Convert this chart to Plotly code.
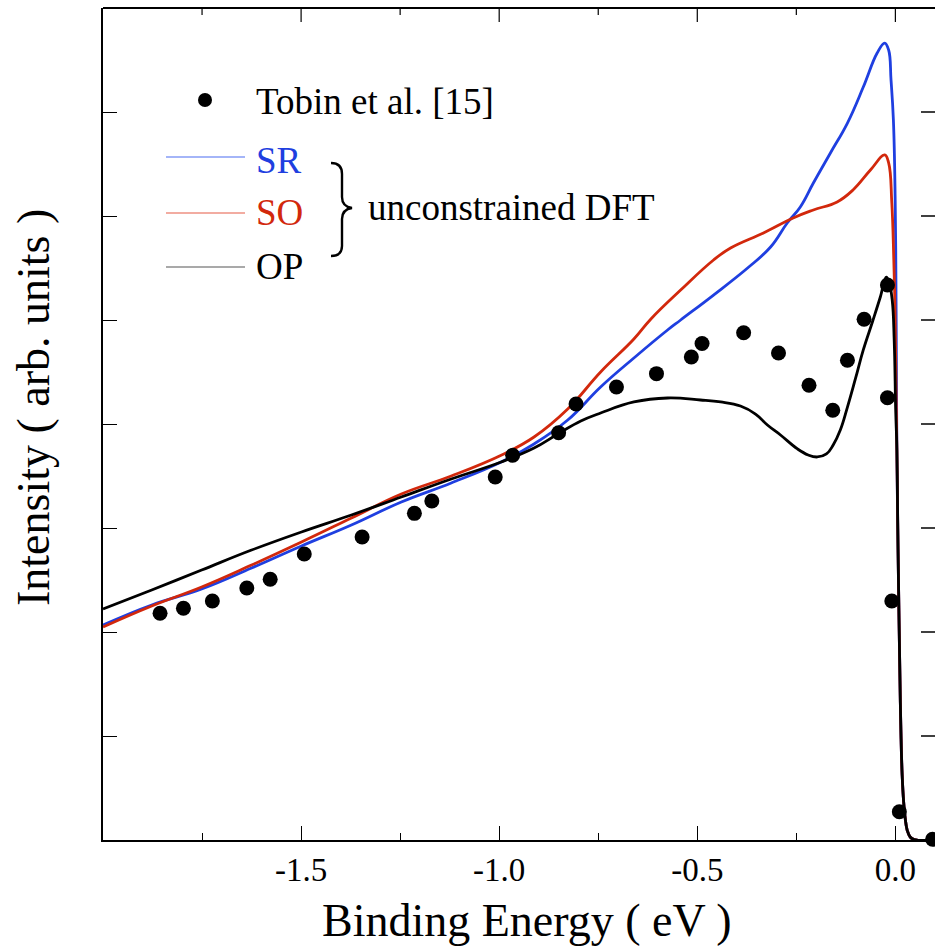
import plotly.graph_objects as go

# ---------------- data (binding energy in eV, intensity in arb. units) ----------------
energy_op = [-2.0, -1.877, -1.751, -1.625, -1.499, -1.373, -1.247, -1.121, -0.995, -0.912,
             -0.852, -0.794, -0.744, -0.660, -0.575, -0.492, -0.441, -0.391, -0.353, -0.323,
             -0.290, -0.247, -0.220, -0.197, -0.174, -0.157, -0.139, -0.121, -0.101, -0.081,
             -0.058, -0.038, -0.023, -0.016, -0.008, -0.003, 0.0008, 0.0038, 0.0058, 0.0078,
             0.0108, 0.0139, 0.0171, 0.0209, 0.0247, 0.0297, 0.0373, 0.0474, 0.1]
intensity_op = [2.221, 2.404, 2.596, 2.788, 2.962, 3.125, 3.298, 3.471, 3.635, 3.769,
                3.904, 4.029, 4.106, 4.212, 4.250, 4.231, 4.212, 4.173, 4.096, 3.990,
                3.894, 3.760, 3.702, 3.683, 3.712, 3.798, 3.942, 4.163, 4.433, 4.712,
                4.981, 5.221, 5.413, 5.365, 5.192, 4.808, 4.135, 3.75, 3.077, 2.5,
                1.731, 1.058, 0.625, 0.365, 0.212, 0.096, 0.029, 0.005, 0.0]

energy_sr = [-2.0, -1.877, -1.751, -1.625, -1.499, -1.373, -1.247, -1.121, -0.995, -0.912,
             -0.827, -0.744, -0.660, -0.575, -0.542, -0.459, -0.373, -0.315, -0.273, -0.240,
             -0.207, -0.164, -0.121, -0.081, -0.046, -0.027, -0.017, -0.011, -0.005, -0.0005,
             0.002, 0.0038, 0.0058, 0.0078, 0.0108, 0.0139, 0.0171, 0.0209, 0.0247, 0.0297,
             0.0373, 0.0474, 0.1]
intensity_sr = [2.067, 2.260, 2.413, 2.615, 2.827, 3.029, 3.250, 3.433, 3.635, 3.808,
                4.038, 4.356, 4.635, 4.904, 5.000, 5.240, 5.500, 5.702, 5.933, 6.087,
                6.317, 6.606, 6.894, 7.240, 7.567, 7.663, 7.596, 7.308, 6.923, 6.154,
                5.0, 3.75, 3.077, 2.5, 1.731, 1.058, 0.625, 0.365, 0.212, 0.096,
                0.029, 0.005, 0.0]

energy_so = [-2.0, -1.877, -1.751, -1.625, -1.499, -1.373, -1.247, -1.121, -0.995, -0.912,
             -0.827, -0.744, -0.660, -0.617, -0.542, -0.459, -0.416, -0.333, -0.258, -0.207,
             -0.147, -0.107, -0.063, -0.027, -0.017, -0.009, -0.004, -0.0005, 0.002, 0.0038,
             0.0058, 0.0078, 0.0108, 0.0139, 0.0171, 0.0209, 0.0247, 0.0297, 0.0373, 0.0474, 0.1]
intensity_so = [2.048, 2.250, 2.433, 2.644, 2.865, 3.096, 3.327, 3.500, 3.700, 3.875,
                4.144, 4.500, 4.817, 5.010, 5.288, 5.577, 5.692, 5.837, 5.981, 6.058,
                6.135, 6.250, 6.442, 6.587, 6.510, 6.125, 5.577, 5.0, 4.231, 3.75,
                3.077, 2.5, 1.731, 1.058, 0.625, 0.365, 0.212, 0.096, 0.029, 0.005, 0.0]

tobin_energy = [-1.856, -1.797, -1.724, -1.637, -1.578, -1.492, -1.346, -1.214, -1.170, -1.010,
                -0.966, -0.850, -0.806, -0.704, -0.603, -0.515, -0.488, -0.383, -0.295, -0.218,
                -0.158, -0.121, -0.079, -0.020, -0.020, -0.009, 0.010, 0.094]
tobin_intensity = [2.180, 2.228, 2.298, 2.423, 2.507, 2.750, 2.913, 3.141, 3.260, 3.490,
                   3.699, 3.916, 4.192, 4.356, 4.484, 4.644, 4.774, 4.878, 4.683, 4.372,
                   4.132, 4.613, 5.007, 5.337, 4.253, 2.298, 0.272, 0.007]

x_tickvals = [-1.5, -1.0, -0.5, 0.0]
x_ticktext = ["-1.5", "-1.0", "-0.5", "0.0"]
x_minorvals = [-1.75, -1.25, -0.75, -0.25]
y_tickvals = [1, 2, 3, 4, 5, 6, 7]

labels = {"tobin": "Tobin et al. [15]", "sr": "SR", "so": "SO", "op": "OP",
          "group": "unconstrained DFT"}

# ---------------- style ----------------
FONT = "Liberation Serif"
BLUE = "#1f3fe0"
RED = "#d2280c"
BLACK = "#000000"
W, H = 935, 948
L, R, T, B = 103, 0, 8, 108
PW, PH = W - L - R, H - T - B
MAJ, MIN = 14, 7


def pxx(xp):
    return (xp - L) / PW


def pxy(yp):
    return (H - B - yp) / PH


fig = go.Figure()
for xs, ys, col in [(energy_sr, intensity_sr, BLUE), (energy_so, intensity_so, RED),
                    (energy_op, intensity_op, BLACK)]:
    fig.add_trace(go.Scatter(x=xs, y=ys, mode="lines", showlegend=False,
                             line=dict(color=col, width=2.8, shape="spline", smoothing=1.2)))
fig.add_trace(go.Scatter(x=tobin_energy, y=tobin_intensity, mode="markers",
                         showlegend=False, marker=dict(color=BLACK, size=15), cliponaxis=False))

shapes = []
annos = []

# ---------------- frame: top line with ticks, right-hand ticks ----------------
shapes.append(dict(type="line", xref="paper", yref="paper", x0=0, x1=1, y0=1, y1=1,
                   line=dict(color=BLACK, width=2)))
for v in x_tickvals:
    shapes.append(dict(type="line", xref="x", yref="paper", x0=v, x1=v, y0=1, y1=1 - MAJ / PH,
                       line=dict(color=BLACK, width=1.2)))
for v in x_minorvals:
    shapes.append(dict(type="line", xref="x", yref="paper", x0=v, x1=v, y0=1, y1=1 - MIN / PH,
                       line=dict(color=BLACK, width=1.2)))
for v in y_tickvals:
    shapes.append(dict(type="line", xref="paper", yref="y", x0=1 - MAJ / PW, x1=1, y0=v, y1=v,
                       line=dict(color=BLACK, width=1.5)))

# ---------------- legend drawn by hand ----------------
shapes.append(dict(type="circle", xref="paper", yref="paper", fillcolor=BLACK, line=dict(width=0),
                   x0=pxx(198), x1=pxx(212), y0=pxy(107), y1=pxy(93)))
for yline, col in [(157, "#4a6cf2"), (213, "#e65a45"), (267, "#555555")]:
    shapes.append(dict(type="line", xref="paper", yref="paper", x0=pxx(166), x1=pxx(245),
                       y0=pxy(yline), y1=pxy(yline), line=dict(color=col, width=1.2)))
bp = [(331, 163), (338, 163), (342, 166), (342, 174), (342, 197), (342, 203), (345, 207), (352, 208),
      (345, 209), (342, 213), (342, 219), (342, 246), (342, 253), (338, 256), (331, 256)]
pts = [f"{pxx(a):.5f},{pxy(b):.5f}" for a, b in bp]
path = (f"M {pts[0]} C {pts[1]} {pts[2]} {pts[3]} L {pts[4]} C {pts[5]} {pts[6]} {pts[7]} "
        f"C {pts[8]} {pts[9]} {pts[10]} L {pts[11]} C {pts[12]} {pts[13]} {pts[14]}")
shapes.append(dict(type="path", xref="paper", yref="paper", path=path,
                   line=dict(color=BLACK, width=2.4)))

for text, xp, yp, col in [(labels["tobin"], 254, 101, BLACK), (labels["sr"], 254, 160, BLUE),
                          (labels["so"], 254, 213, RED), (labels["op"], 254, 267, BLACK),
                          (labels["group"], 366, 207, BLACK)]:
    annos.append(dict(text=text, xref="paper", yref="paper", x=pxx(xp), y=pxy(yp),
                      xanchor="left", yanchor="middle", showarrow=False,
                      font=dict(family=FONT, size=37, color=col)))

annos.append(dict(text="Binding Energy ( eV )", xref="paper", yref="paper", x=pxx(527), y=pxy(920),
                  xanchor="center", yanchor="middle", showarrow=False,
                  font=dict(family=FONT, size=46, color=BLACK)))
annos.append(dict(text="Intensity ( arb. units )", xref="paper", yref="paper", x=pxx(34), y=pxy(408),
                  xanchor="center", yanchor="middle", showarrow=False, textangle=-90,
                  font=dict(family=FONT, size=46, color=BLACK)))

fig.update_layout(
    width=W, height=H, margin=dict(l=L, r=R, t=T, b=B, pad=0),
    paper_bgcolor="white", plot_bgcolor="white", showlegend=False,
    font=dict(family=FONT),
    shapes=shapes, annotations=annos,
    xaxis=dict(range=[-2.0, 0.1], showgrid=False, zeroline=False, showline=True,
               linecolor=BLACK, linewidth=1.6, mirror=False, ticks="inside", ticklen=MAJ,
               tickwidth=1, tickcolor=BLACK, tickmode="array", tickvals=x_tickvals,
               ticktext=x_ticktext, tickfont=dict(family=FONT, size=33, color=BLACK),
               minor=dict(tickmode="array", tickvals=x_minorvals, ticks="inside", ticklen=MIN,
                          tickwidth=1, tickcolor=BLACK, showgrid=False)),
    yaxis=dict(range=[0, 8], showgrid=False, zeroline=False, showline=True, linecolor=BLACK,
               linewidth=1.6, mirror=False, ticks="inside", ticklen=MAJ, tickwidth=1,
               tickcolor=BLACK, tickmode="array", tickvals=y_tickvals, showticklabels=False),
)

fig.write_html("out.html")
